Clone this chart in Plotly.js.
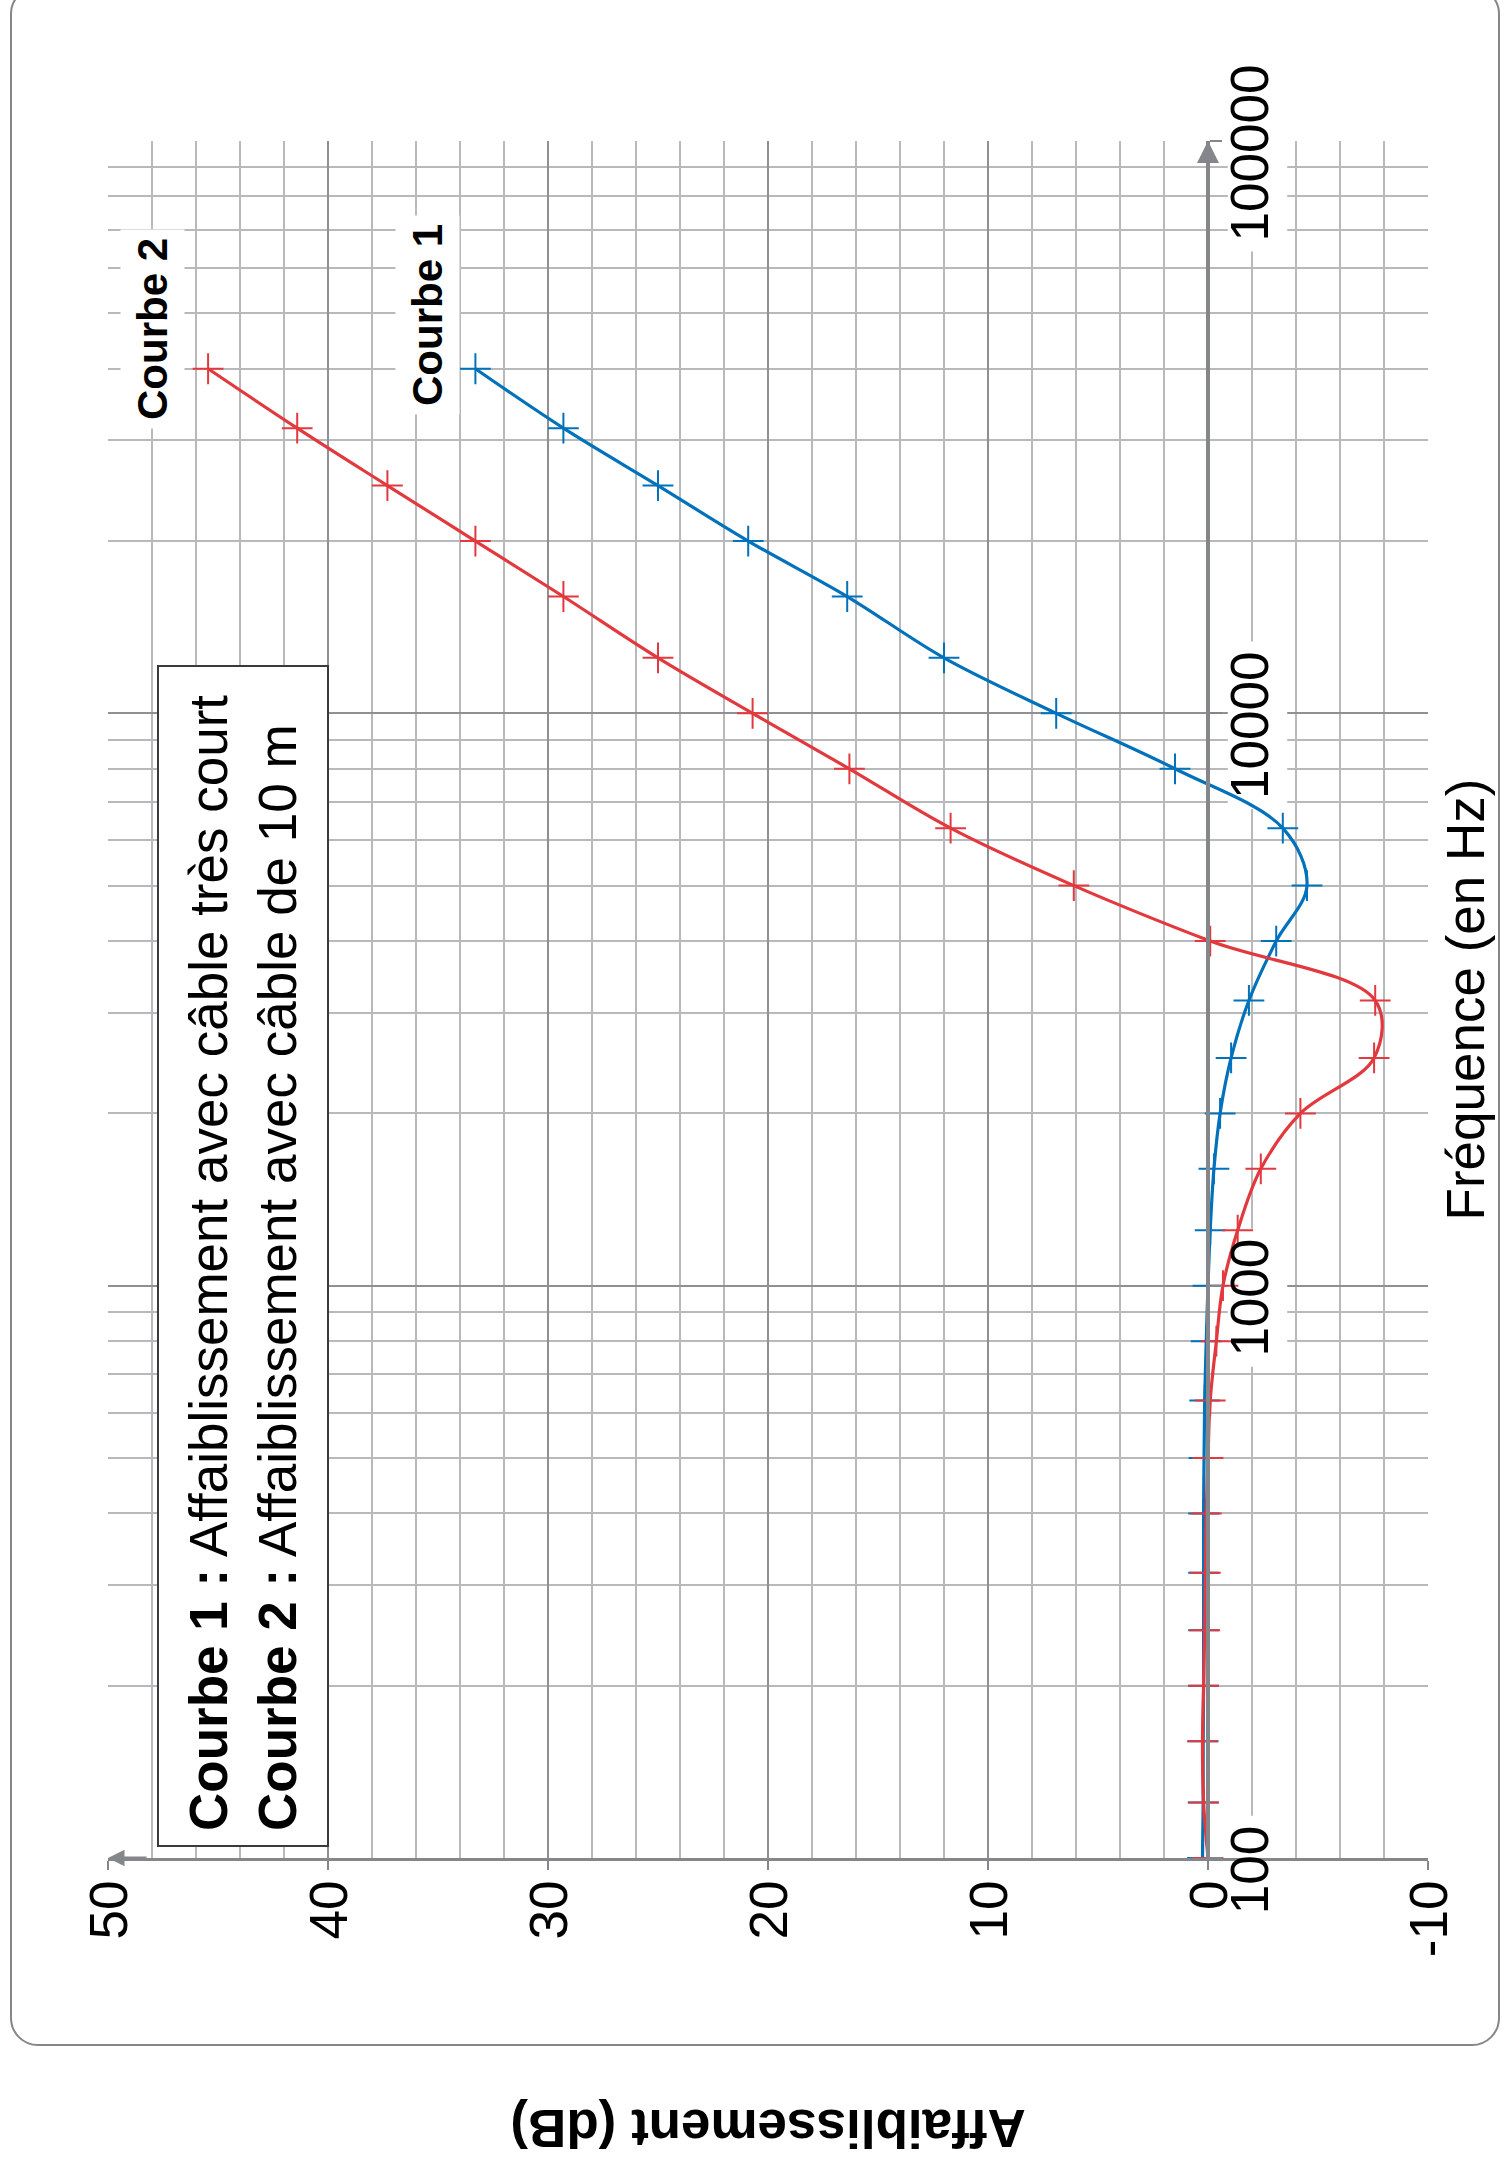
<!DOCTYPE html>
<html lang="fr">
<head>
<meta charset="utf-8">
<title>Affaiblissement en fonction de la fréquence</title>
<script src="https://cdn.plot.ly/plotly-3.0.1.min.js"></script>
<style>
  html, body { margin: 0; padding: 0; background: #ffffff; }
  body { width: 1506px; height: 2158px; overflow: hidden; position: relative; }
  /* The chart is laid out landscape and turned a quarter turn counter-clockwise */
  #sheet {
    position: absolute; left: 0; top: 0;
    width: 2158px; height: 1506px;
    transform-origin: 0 0;
    transform: translate(0, 2158px) rotate(-90deg);
  }
  #frame {
    position: absolute; left: 112px; top: 10px;
    width: 2060px; height: 1490px;
    border: 2px solid #85868a; border-radius: 28px;
    box-sizing: border-box;
  }
  #chart { position: absolute; left: 0; top: 0; width: 2158px; height: 1506px; }
</style>
</head>
<body>
<div id="sheet">
  <div id="frame"></div>
  <div id="chart"></div>
</div>
<script>
// Third-octave band centre frequencies (Hz)
const freqHz = [100, 125, 160, 200, 250, 315, 400, 500, 630, 800, 1000, 1250, 1600, 2000,
                2500, 3150, 4000, 5000, 6300, 8000, 10000, 12500, 16000, 20000, 25000, 31500, 40000];

// Courbe 1 : câble très court (dB)
const courbe1 = [0.25, 0.22, 0.22, 0.2, 0.2, 0.2, 0.2, 0.18, 0.15, 0.08, 0.0, -0.1, -0.27, -0.55,
                 -1.05, -1.86, -3.1, -4.5, -3.4, 1.5, 6.9, 12.0, 16.4, 20.9, 25.0, 29.3, 33.3];

// Courbe 2 : câble de 10 m (dB)
const courbe2 = [0.0, 0.2, 0.25, 0.2, 0.15, 0.12, 0.08, 0.0, -0.1, -0.38, -0.68, -1.35, -2.4, -4.2,
                 -7.55, -7.6, -0.1, 6.1, 11.7, 16.3, 20.7, 25.0, 29.3, 33.3, 37.3, 41.4, 45.45];

// Axis ticks
const freqTicks = [100, 1000, 10000, 100000];
const freqTickText = ['100', '1000', '10000', '100000'];
const dbTicks = [-10, 0, 10, 20, 30, 40, 50];
const dbTickText = ['-10', '0', '10', '20', '30', '40', '50'];

const FONT = 'Liberation Sans, Arial, Helvetica, sans-serif';
const BLUE = '#0071bb';
const RED = '#e2393f';
const AXIS = '#85868a';

function curve(y, color) {
  return {
    x: freqHz, y: y, type: 'scatter', mode: 'lines+markers',
    line: { color: color, width: 3.2, shape: 'spline', smoothing: 1 },
    marker: { symbol: 'cross-thin', size: 22, color: color, line: { color: color, width: 2 } },
    hoverinfo: 'skip'
  };
}

const traces = [curve(courbe1, BLUE), curve(courbe2, RED)];

// White pads under the frequency labels so the grid does not run through them
const labelPads = freqTicks.map((f, i) => {
  const half = (freqTickText[i].length * 29.5 / 2 + 10) / 572.4;
  const c = Math.log10(f) - 12 / 572.4;
  return {
    type: 'rect', layer: 'between', xref: 'x', yref: 'y',
    x0: Math.pow(10, c - half), x1: Math.pow(10, c + half),
    y0: -0.9, y1: -3.6,
    fillcolor: '#ffffff', line: { width: 0 }
  };
});

const layout = {
  width: 2158, height: 1506,
  margin: { l: 300, r: 141, t: 108, b: 78 },
  paper_bgcolor: 'rgba(0,0,0,0)',
  plot_bgcolor: 'rgba(0,0,0,0)',
  font: { family: FONT, color: '#000000' },
  showlegend: false,
  xaxis: {
    type: 'log', range: [2, 5],
    tickmode: 'array', tickvals: freqTicks, ticktext: freqTickText,
    ticklabelshift: -12, ticklabelstandoff: -18,
    tickfont: { size: 53, family: FONT },
    anchor: 'free', position: 10 / 60,
    showline: true, linecolor: AXIS, linewidth: 4,
    ticks: 'outside', ticklen: 12, tickwidth: 2, tickcolor: AXIS,
    showgrid: true, gridcolor: '#8f9093', gridwidth: 2,
    minor: { dtick: 'D1', showgrid: true, gridcolor: '#b8b9bb', gridwidth: 2, ticks: '' },
    zeroline: false,
    title: { text: 'Fréquence (en Hz)', font: { size: 53, family: FONT }, standoff: 168 }
  },
  yaxis: {
    range: [-10, 50],
    tickmode: 'array', tickvals: dbTicks, ticktext: dbTickText,
    tickfont: { size: 53, family: FONT },
    showline: true, linecolor: AXIS, linewidth: 3,
    ticks: 'outside', ticklen: 9, tickwidth: 2, tickcolor: AXIS,
    showgrid: true, gridcolor: '#8f9093', gridwidth: 2,
    minor: { dtick: 2, showgrid: true, gridcolor: '#b8b9bb', gridwidth: 2, ticks: '' },
    zeroline: false,
    title: { text: '<b>Affaiblissement (dB)</b>', font: { size: 53, family: FONT }, standoff: 140 }
  },
  shapes: labelPads,
  annotations: [
    {
      xref: 'x', yref: 'y', x: 2.019, y: 47.77, xanchor: 'left', yanchor: 'top',
      text: '<b>Courbe 1 :</b> Affaiblissement avec câble très court<br>' +
            '<b>Courbe 2 :</b> Affaiblissement avec câble de 10 m',
      align: 'left', showarrow: false,
      width: 1150, height: 140,
      font: { size: 53, family: FONT, color: '#000000' },
      bgcolor: '#ffffff', bordercolor: '#3a3a3c', borderwidth: 2, borderpad: 14
    },
    {
      xref: 'x', yref: 'y', x: 4.671, y: 48.0,
      text: '<b>Courbe 2</b>', showarrow: false,
      font: { size: 42, family: FONT, color: '#000000' },
      bgcolor: '#ffffff', borderpad: 8
    },
    {
      xref: 'x', yref: 'y', x: 4.696, y: 35.5,
      text: '<b>Courbe 1</b>', showarrow: false,
      font: { size: 42, family: FONT, color: '#000000' },
      bgcolor: '#ffffff', borderpad: 8
    },
    // arrow heads at the far ends of both axes
    {
      xref: 'x', yref: 'y', x: 2, y: 50, ax: 0, ay: 40, axref: 'pixel', ayref: 'pixel',
      text: '', showarrow: true, arrowhead: 2, arrowsize: 1.1, arrowwidth: 3, arrowcolor: AXIS
    },
    {
      xref: 'x', yref: 'y', x: 5, y: 0, ax: -40, ay: 0,
      text: '', showarrow: true, arrowhead: 2, arrowsize: 1.1, arrowwidth: 4, arrowcolor: AXIS
    }
  ]
};

Plotly.newPlot('chart', traces, layout, { staticPlot: true, displayModeBar: false });
</script>
</body>
</html>
